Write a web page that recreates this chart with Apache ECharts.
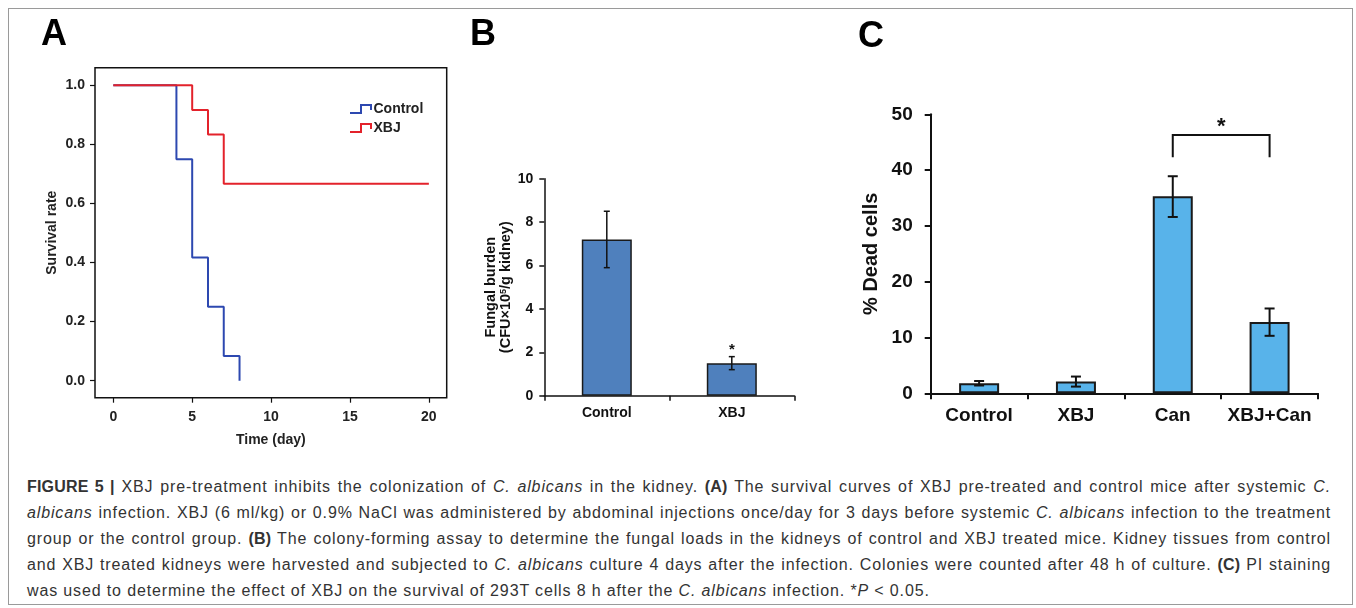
<!DOCTYPE html>
<html><head><meta charset="utf-8">
<script src="https://cdn.jsdelivr.net/npm/echarts@6/dist/echarts.min.js"></script>
<style>
html,body{margin:0;padding:0;background:#fff;}
#frame{position:absolute;left:8px;top:8px;width:1345px;height:597px;border:1px solid #9a9a9a;box-sizing:border-box;}
#chart{position:absolute;left:0;top:0;width:1356px;height:460px;}
#caption{position:absolute;left:27px;top:474px;width:1304px;font-family:'Liberation Sans',Arial,sans-serif;font-size:16px;letter-spacing:0.86px;line-height:26px;color:#333;}
#caption div{white-space:nowrap;text-align:justify;text-align-last:justify;}
#caption div.last{text-align-last:left;}
#caption b{letter-spacing:0.2px;}
</style></head>
<body>
<div id="frame"></div>
<div id="chart"></div>
<div id="caption">
<div><b>FIGURE 5 |</b> XBJ pre-treatment inhibits the colonization of <i>C. albicans</i> in the kidney. <b>(A)</b> The survival curves of XBJ pre-treated and control mice after systemic <i>C.</i></div>
<div><i>albicans</i> infection. XBJ (6 ml/kg) or 0.9% NaCl was administered by abdominal injections once/day for 3 days before systemic <i>C. albicans</i> infection to the treatment</div>
<div>group or the control group. <b>(B)</b> The colony-forming assay to determine the fungal loads in the kidneys of control and XBJ treated mice. Kidney tissues from control</div>
<div>and XBJ treated kidneys were harvested and subjected to <i>C. albicans</i> culture 4 days after the infection. Colonies were counted after 48 h of culture. <b>(C)</b> PI staining</div>
<div class="last">was used to determine the effect of XBJ on the survival of 293T cells 8 h after the <i>C. albicans</i> infection. *<i>P</i> &lt; 0.05.</div>
</div>
<script>
// ---- Panel A: survival curves ----
const survivalTicksX = [0, 5, 10, 15, 20];
const survivalTicksY = [0, 0.2, 0.4, 0.6, 0.8, 1.0];
const survivalControl = [[0, 1], [4, 0.75], [5, 0.4167], [6, 0.25], [7, 0.0833], [8, 0]];
const survivalXBJ = [[0, 1], [5, 0.9167], [6, 0.8333], [7, 0.6667], [20, 0.6667]];

// ---- Panel B: fungal burden ----
const fungalCats = ['Control', 'XBJ'];
const fungalMean = [7.2, 1.5];
const fungalLow = [5.9, 1.2];
const fungalHigh = [8.5, 1.8];
const fungalSig = [1];

// ---- Panel C: % dead cells ----
const deadCats = ['Control', 'XBJ', 'Can', 'XBJ+Can'];
const deadMean = [1.8, 2.1, 35.3, 12.8];
const deadLow = [1.4, 1.2, 31.6, 10.3];
const deadHigh = [2.2, 3.0, 38.9, 15.2];
const deadBracket = [[2, 3, 46.3, 42.3]];

const FONT = "'Liberation Sans', Arial, sans-serif";
const INK = '#111';

const chart = echarts.init(document.getElementById('chart'), null, {renderer: 'canvas'});

function errRender(cap, lw) {
  return function (params, api) {
    const x = api.value(0);
    const lo = api.coord([x, api.value(1)]);
    const hi = api.coord([x, api.value(2)]);
    const st = {stroke: INK, lineWidth: lw};
    return {type: 'group', children: [
      {type: 'line', shape: {x1: lo[0], y1: lo[1], x2: hi[0], y2: hi[1]}, style: st},
      {type: 'line', shape: {x1: hi[0] - cap, y1: hi[1], x2: hi[0] + cap, y2: hi[1]}, style: st},
      {type: 'line', shape: {x1: lo[0] - cap, y1: lo[1], x2: lo[0] + cap, y2: lo[1]}, style: st}
    ]};
  };
}

const stepIcon = 'path://M0,8 L10,8 L10,0 L22,0 L22,6 L20,6 L20,2 L12,2 L12,10 L0,10 Z';

const option = {
  animation: false,
  textStyle: {fontFamily: FONT},
  graphic: [
    {type: 'text', left: 41, top: 17, style: {text: 'A', font: 'bold 36px ' + FONT, fill: '#000'}},
    {type: 'text', left: 470, top: 17, style: {text: 'B', font: 'bold 36px ' + FONT, fill: '#000'}},
    {type: 'text', left: 858, top: 19, style: {text: 'C', font: 'bold 36px ' + FONT, fill: '#000'}}
  ],
  legend: {
    left: 350, top: 102, padding: 0, orient: 'vertical', itemGap: 5,
    itemWidth: 23, itemHeight: 10,
    icon: stepIcon,
    itemStyle: {borderWidth: 0},
    textStyle: {fontSize: 14, fontWeight: 'bold', color: '#222', padding: [0, 0, 0, -4]},
    data: ['Control', 'XBJ']
  },
  grid: [
    {left: 95, top: 67.7, width: 351.7, height: 330, show: true, borderColor: INK, borderWidth: 1.5, containLabel: false},
    {left: 544.3, top: 178.7, width: 250, height: 217, containLabel: false},
    {left: 930.7, top: 114.3, width: 387.3, height: 279, containLabel: false}
  ],
  xAxis: [
    {gridIndex: 0, type: 'value', min: -1.16, max: 21.13,
      axisLine: {show: false, onZero: false}, splitLine: {show: false},
      axisTick: {show: true, customValues: survivalTicksX, length: 5, lineStyle: {color: INK, width: 1.2}},
      axisLabel: {customValues: survivalTicksX, margin: 12, fontSize: 14, fontWeight: 'bold', color: '#222'},
      name: 'Time (day)', nameLocation: 'middle', nameGap: 35,
      nameTextStyle: {fontSize: 14, fontWeight: 'bold', color: '#222'}},
    {gridIndex: 1, type: 'category', data: fungalCats,
      axisLine: {show: true, onZero: false, lineStyle: {color: INK, width: 1.5}},
      axisTick: {show: true, length: 5, lineStyle: {color: INK, width: 1.5}},
      axisLabel: {interval: 0, margin: 10, fontSize: 14, fontWeight: 'bold', color: '#111'}},
    {gridIndex: 2, type: 'category', data: deadCats,
      axisLine: {show: true, onZero: false, lineStyle: {color: INK, width: 2}},
      axisTick: {show: true, length: 6, lineStyle: {color: INK, width: 2}},
      axisLabel: {interval: 0, margin: 13, fontSize: 19, fontWeight: 'bold', color: '#111'}}
  ],
  yAxis: [
    {gridIndex: 0, type: 'value', min: -0.0576, max: 1.0596,
      axisLine: {show: false, onZero: false}, splitLine: {show: false},
      axisTick: {show: true, customValues: survivalTicksY, length: 5, lineStyle: {color: INK, width: 1.2}},
      axisLabel: {customValues: survivalTicksY, margin: 10, fontSize: 14, fontWeight: 'bold', color: '#222',
        formatter: v => v.toFixed(1)},
      name: 'Survival rate', nameLocation: 'middle', nameGap: 36,
      nameTextStyle: {fontSize: 14, fontWeight: 'bold', color: '#222'}},
    {gridIndex: 1, type: 'value', min: 0, max: 10, interval: 2,
      axisLine: {show: true, onZero: false, lineStyle: {color: INK, width: 1.5}}, splitLine: {show: false},
      axisTick: {show: true, length: 5, lineStyle: {color: INK, width: 1.5}},
      axisLabel: {margin: 11, fontSize: 14, fontWeight: 'bold', color: '#111'},
      name: '{a|Fungal burden}\n{a|(CFU×10}{s|5}{a|/g kidney)}', nameLocation: 'middle', nameGap: 29,
      nameTextStyle: {rich: {
        a: {fontSize: 14.5, fontWeight: 'bold', color: '#111', lineHeight: 15, fontFamily: FONT},
        s: {fontSize: 9, fontWeight: 'bold', color: '#111', lineHeight: 15, verticalAlign: 'top', fontFamily: FONT}
      }}},
    {gridIndex: 2, type: 'value', min: 0, max: 50, interval: 10,
      axisLine: {show: true, onZero: false, lineStyle: {color: INK, width: 2}}, splitLine: {show: false},
      axisTick: {show: true, length: 6, lineStyle: {color: INK, width: 2}},
      axisLabel: {margin: 18, fontSize: 19, fontWeight: 'bold', color: '#111'},
      name: '% Dead cells', nameLocation: 'middle', nameGap: 49,
      nameTextStyle: {fontSize: 20, fontWeight: 'bold', color: '#111'}}
  ],
  series: [
    {name: 'Control', type: 'line', xAxisIndex: 0, yAxisIndex: 0, step: 'end', symbol: 'none',
      data: survivalControl, color: '#2d48b0', lineStyle: {width: 2, color: '#2d48b0'}, z: 2},
    {name: 'XBJ', type: 'line', xAxisIndex: 0, yAxisIndex: 0, step: 'end', symbol: 'none',
      data: survivalXBJ, color: '#e3222b', lineStyle: {width: 2, color: '#e3222b'}, z: 3},

    {type: 'bar', xAxisIndex: 1, yAxisIndex: 1, data: fungalMean, barWidth: 50,
      itemStyle: {color: '#4f80bd', borderColor: '#1a1a1a', borderWidth: 1.5}},
    {type: 'custom', xAxisIndex: 1, yAxisIndex: 1, renderItem: errRender(3, 1.5),
      data: fungalMean.map((m, i) => [i, fungalLow[i], fungalHigh[i]]), z: 5},
    {type: 'custom', xAxisIndex: 1, yAxisIndex: 1, z: 5,
      data: fungalSig.map(i => [i, fungalHigh[i]]),
      renderItem: function (params, api) {
        const p = api.coord([api.value(0), api.value(1)]);
        return {type: 'text', style: {text: '*', x: p[0], y: p[1] - 7, align: 'center', verticalAlign: 'middle',
          font: 'bold 15px ' + FONT, fill: '#111'}};
      }},

    {type: 'bar', xAxisIndex: 2, yAxisIndex: 2, data: deadMean, barWidth: 40,
      itemStyle: {color: '#58b3ea', borderColor: '#1a1a1a', borderWidth: 2}},
    {type: 'custom', xAxisIndex: 2, yAxisIndex: 2, renderItem: errRender(5, 2),
      data: deadMean.map((m, i) => [i, deadLow[i], deadHigh[i]]), z: 5},
    {type: 'custom', xAxisIndex: 2, yAxisIndex: 2, z: 5, data: deadBracket,
      renderItem: function (params, api) {
        const a = api.coord([api.value(0), api.value(2)]);
        const b = api.coord([api.value(1), api.value(2)]);
        const bot = api.coord([api.value(0), api.value(3)])[1];
        return {type: 'group', children: [
          {type: 'polyline', shape: {points: [[a[0], bot], [a[0], a[1]], [b[0], a[1]], [b[0], bot]]},
            style: {stroke: INK, lineWidth: 2, fill: 'none'}},
          {type: 'text', style: {text: '*', x: (a[0] + b[0]) / 2, y: a[1] - 8, align: 'center', verticalAlign: 'middle',
            font: 'bold 22px ' + FONT, fill: '#111'}}
        ]};
      }}
  ]
};
chart.setOption(option);
</script>
</body></html>
